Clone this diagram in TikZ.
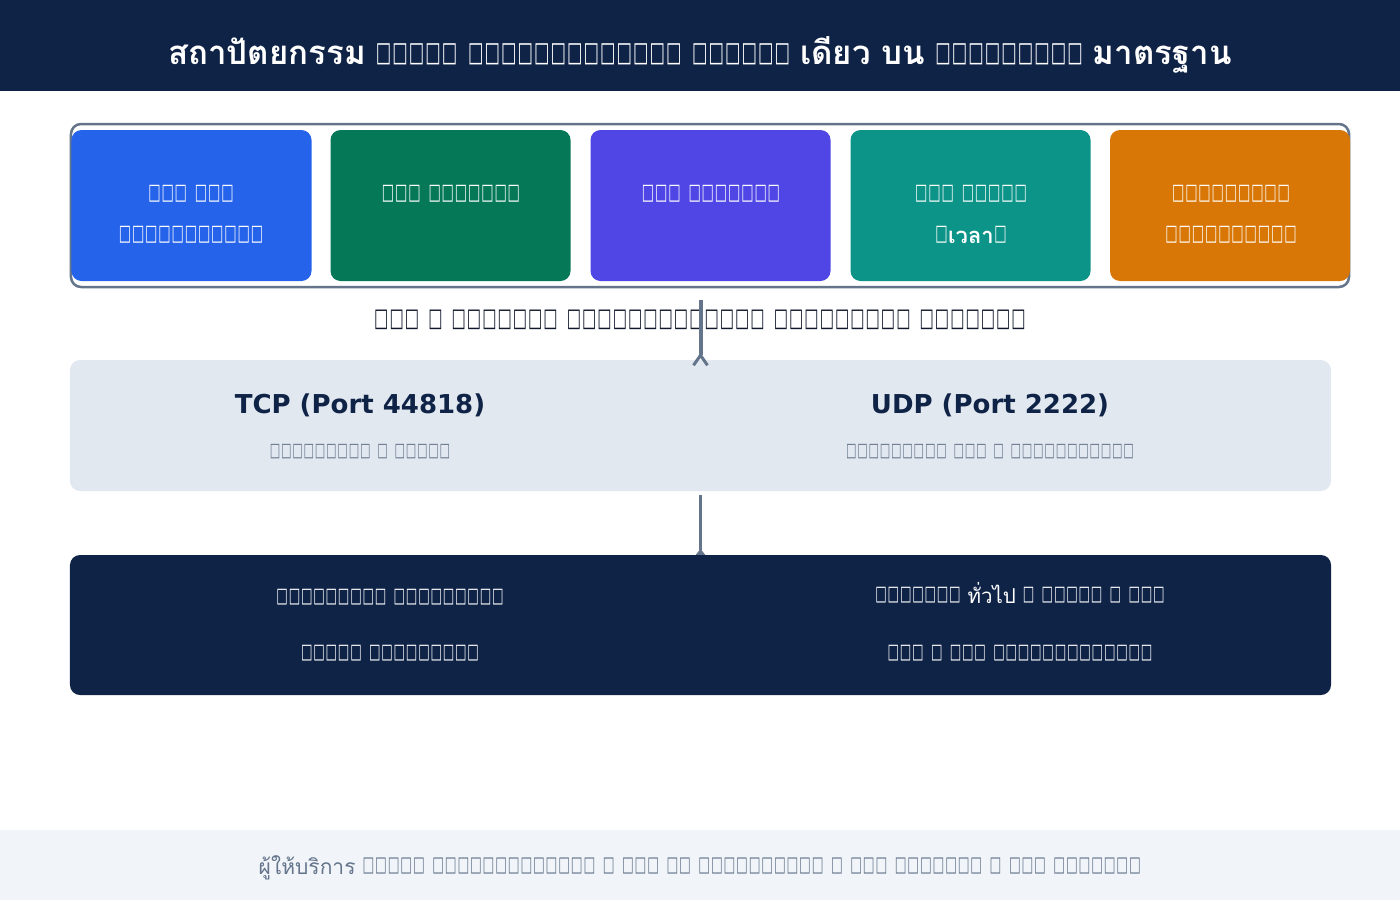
\documentclass[tikz,border=0pt]{standalone}
\usepackage{fontspec}
\usepackage{graphicx}
\setmainfont{DejaVu Sans}
\newfontfamily\thai[Script=Thai]{Loma}
\usetikzlibrary{arrows.meta}
\newcommand\tofubox{\hbox to 0.6em{\hss\raisebox{\depth}{\resizebox*{0.56em}{0.77em}{\char"25A1}}\hss}}
\catcode`▯=\active
\def▯{\tofubox}
\newcommand\thT{\thai\fontsize{33bp}{36bp}\selectfont}
\definecolor{navy}{HTML}{0F2347}
\definecolor{cblue}{HTML}{2563EB}
\definecolor{cgreen}{HTML}{047857}
\definecolor{cindigo}{HTML}{4F46E5}
\definecolor{cteal}{HTML}{0D9488}
\definecolor{corange}{HTML}{D97706}
\definecolor{slate}{HTML}{64748B}
\definecolor{plight}{HTML}{E2E8F0}
\definecolor{foot}{HTML}{F1F5F9}
\definecolor{ink}{HTML}{0F172A}
\tikzset{
  panel/.style={rectangle, inner sep=0pt, draw=none},
  layerbox/.style={panel, rounded corners=10bp, minimum width=240bp, minimum height=151bp},
  txt/.style={inner sep=0pt, anchor=base},
  boxtxt/.style={txt, text=white, font=\fontsize{22bp}{26bp}\selectfont},
  subtxt/.style={txt, text=slate, font=\fontsize{18.8bp}{22bp}\selectfont},
  bottxt/.style={txt, text=white, font=\fontsize{20.5bp}{24bp}\selectfont},
  head/.style={txt, text=navy, font=\fontsize{26bp}{30bp}\selectfont\bfseries},
  conn/.style={draw=slate, line width=4bp},
}
\begin{document}
\begin{tikzpicture}[x=1bp, y=-1bp]
\useasboundingbox (0,0) rectangle (1400,900);
% header
\node[panel, fill=navy, minimum width=1400bp, minimum height=91bp] (header) at (700,45.5) {};
\node[txt, text=white, font=\fontsize{27.5bp}{32bp}\selectfont\bfseries] (title) at (700,64.5)
  {{\thT สถาปัตยกรรม} ▯▯▯▯▯ ▯▯▯▯▯▯▯▯▯▯▯▯▯ ▯▯▯▯▯▯ {\thT เดียว บน} ▯▯▯▯▯▯▯▯▯ {\thT มาตรฐาน}};
% container
\node[panel, draw=slate, line width=2.5bp, fill=white, rounded corners=10bp, minimum width=1278bp, minimum height=163bp] (cont) at (710,205.5) {};
\node[layerbox, fill=cblue]   (b1) at (191.5,205.5) {};
\node[layerbox, fill=cgreen]  (b2) at (450.5,205.5) {};
\node[layerbox, fill=cindigo] (b3) at (710.5,205.5) {};
\node[layerbox, fill=cteal]   (b4) at (970.5,205.5) {};
\node[layerbox, fill=corange] (b5) at (1230,205.5) {};
\node[boxtxt] (b1a) at (191,202.5) {▯▯▯ ▯▯▯};
\node[boxtxt] (b1b) at (191,243.5) {▯▯▯▯▯▯▯▯▯▯▯};
\node[boxtxt] (b2a) at (451,202.5) {▯▯▯ ▯▯▯▯▯▯▯};
\node[boxtxt] (b3a) at (711,202.5) {▯▯▯ ▯▯▯▯▯▯▯};
\node[boxtxt] (b4a) at (971,202.5) {▯▯▯ ▯▯▯▯▯};
\node[boxtxt] (b4b) at (971,243.5) {▯{\thai\bfseries เวลา}▯};
\node[boxtxt] (b5a) at (1231,202.5) {▯▯▯▯▯▯▯▯▯};
\node[boxtxt] (b5b) at (1231,243.5) {▯▯▯▯▯▯▯▯▯▯};
% protocol panel
\node[panel, fill=plight, rounded corners=10bp, minimum width=1261bp, minimum height=131bp] (proto) at (700.5,425.5) {};
\node[head] (tcp) at (360,413.5) {TCP (Port 44818)};
\node[head] (udp) at (990,413.5) {UDP (Port 2222)};
\node[subtxt] (tcps) at (360,459.3) {▯▯▯▯▯▯▯▯▯ ▯ ▯▯▯▯▯};
\node[subtxt] (udps) at (990,459.3) {▯▯▯▯▯▯▯▯▯ ▯▯▯ ▯ ▯▯▯▯▯▯▯▯▯▯▯};
% bottom panel
\node[panel, fill=navy, rounded corners=10bp, minimum width=1261bp, minimum height=140bp] (bottom) at (700.5,625) {};
\node[bottxt] (l1) at (390,605) {▯▯▯▯▯▯▯▯▯ ▯▯▯▯▯▯▯▯▯};
\node[bottxt] (l2) at (390,661) {▯▯▯▯▯ ▯▯▯▯▯▯▯▯▯};
\node[bottxt] (r1) at (1020,603) {▯▯▯▯▯▯▯ {\thai ทั่วไป} ▯ ▯▯▯▯▯ ▯ ▯▯▯};
\node[bottxt] (r2) at (1020,661) {▯▯▯ ▯ ▯▯▯ ▯▯▯▯▯▯▯▯▯▯▯▯▯};
% label and connectors
\node[txt, text=ink, font=\fontsize{25.5bp}{30bp}\selectfont] (label) at (700,330) {▯▯▯ ▯ ▯▯▯▯▯▯▯ ▯▯▯▯▯▯▯▯▯▯▯▯▯ ▯▯▯▯▯▯▯▯▯ ▯▯▯▯▯▯▯};
\draw[conn, shorten <=12bp, shorten >=-7bp, -{Straight Barb[reversed, length=10bp, width=14bp, line width=3bp]}] (proto.north |- cont.south) -- (proto.north);
\draw[conn, line width=3.5bp, shorten <=4bp, -{Triangle[reversed, length=6bp, width=9bp]}] (proto.south) -- (bottom.north);
% footer
\node[panel, fill=foot, minimum width=1400bp, minimum height=70bp] (footer) at (700,865) {};
\node[txt, text=slate, font=\fontsize{21bp}{24bp}\selectfont] (foottxt) at (700,874)
  {{\thai ผู้ให้บริการ} ▯▯▯▯▯ ▯▯▯▯▯▯▯▯▯▯▯▯▯ ▯ ▯▯▯ ▯▯ ▯▯▯▯▯▯▯▯▯▯ ▯ ▯▯▯ ▯▯▯▯▯▯▯ ▯ ▯▯▯ ▯▯▯▯▯▯▯};
\end{tikzpicture}
\end{document}
